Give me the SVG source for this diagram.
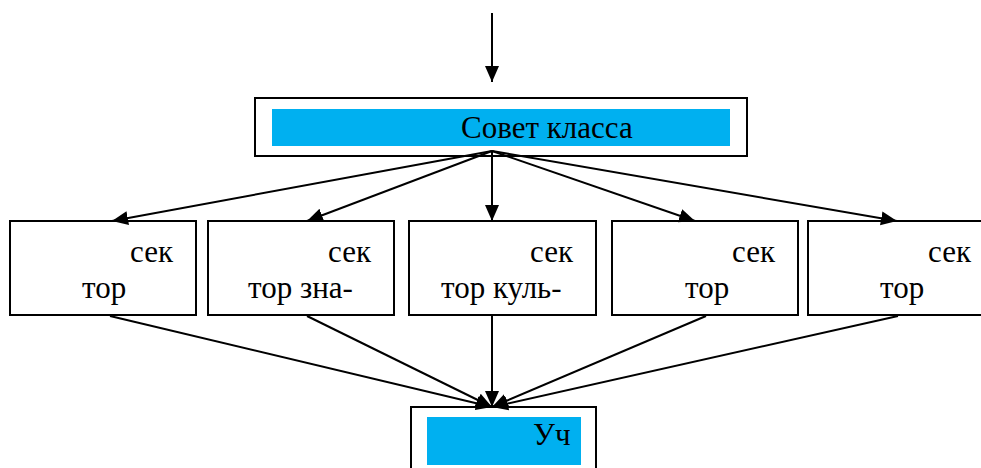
<svg xmlns="http://www.w3.org/2000/svg" width="981" height="468" viewBox="0 0 981 468" xml:lang="ru">
<style>
.box{fill:#fff;stroke:#000;stroke-width:2}
.hl{fill:#00B0F0;stroke:none}
.c line{stroke:#000;stroke-width:2;marker-end:url(#ah)}
</style>
<defs>
<marker id="ah" markerUnits="userSpaceOnUse" markerWidth="16" markerHeight="16" viewBox="0 0 16 14" refX="16" refY="7" orient="auto">
<path d="M0,0 L16,7 L0,14 Z" fill="#000"/>
</marker>
</defs>
<rect width="981" height="468" fill="#fff"/>
<g id="sovet">
<rect class="box" x="255" y="98" width="492" height="58"/>
<rect class="hl" x="272" y="109" width="458" height="37"/>
<text x="461" y="138" font-family="Times New Roman, Tinos, Liberation Serif, serif" font-size="31">Совет класса</text>
</g>
<g id="s1">
<rect class="box" x="10" y="221" width="186" height="94"/>
<text x="130" y="262" font-family="Times New Roman, Tinos, Liberation Serif, serif" font-size="31">сек</text>
<text x="82" y="298" font-family="Times New Roman, Tinos, Liberation Serif, serif" font-size="31">тор</text>
</g>
<g id="s2">
<rect class="box" x="208" y="221" width="186" height="94"/>
<text x="328" y="262" font-family="Times New Roman, Tinos, Liberation Serif, serif" font-size="31">сек</text>
<text x="248" y="298" font-family="Times New Roman, Tinos, Liberation Serif, serif" font-size="31">тор зна-</text>
</g>
<g id="s3">
<rect class="box" x="409" y="221" width="187" height="94"/>
<text x="530" y="262" font-family="Times New Roman, Tinos, Liberation Serif, serif" font-size="31">сек</text>
<text x="441" y="298" font-family="Times New Roman, Tinos, Liberation Serif, serif" font-size="31">тор куль-</text>
</g>
<g id="s4">
<rect class="box" x="612" y="221" width="186" height="94"/>
<text x="732" y="262" font-family="Times New Roman, Tinos, Liberation Serif, serif" font-size="31">сек</text>
<text x="685" y="298" font-family="Times New Roman, Tinos, Liberation Serif, serif" font-size="31">тор</text>
</g>
<g id="s5">
<rect class="box" x="808" y="221" width="190" height="94"/>
<text x="928" y="262" font-family="Times New Roman, Tinos, Liberation Serif, serif" font-size="31">сек</text>
<text x="880" y="298" font-family="Times New Roman, Tinos, Liberation Serif, serif" font-size="31">тор</text>
</g>
<g id="uch">
<rect class="box" x="411" y="407" width="185" height="70"/>
<rect class="hl" x="427" y="417" width="154" height="48"/>
<text x="533" y="445" font-family="Times New Roman, Tinos, Liberation Serif, serif" font-size="31">Уч</text>
</g>
<g class="c" id="connectors">
<line x1="492" y1="13" x2="492" y2="82"/>
<line x1="492" y1="151" x2="112" y2="221"/>
<line x1="492" y1="151" x2="307" y2="221"/>
<line x1="492" y1="151" x2="492" y2="221"/>
<line x1="492" y1="151" x2="695" y2="221"/>
<line x1="492" y1="151" x2="897" y2="221"/>
<line x1="110" y1="316" x2="492" y2="407"/>
<line x1="307" y1="316" x2="492" y2="407"/>
<line x1="492" y1="316" x2="492" y2="407"/>
<line x1="706" y1="316" x2="492" y2="407"/>
<line x1="898" y1="316" x2="492" y2="407"/>
</g>
</svg>
